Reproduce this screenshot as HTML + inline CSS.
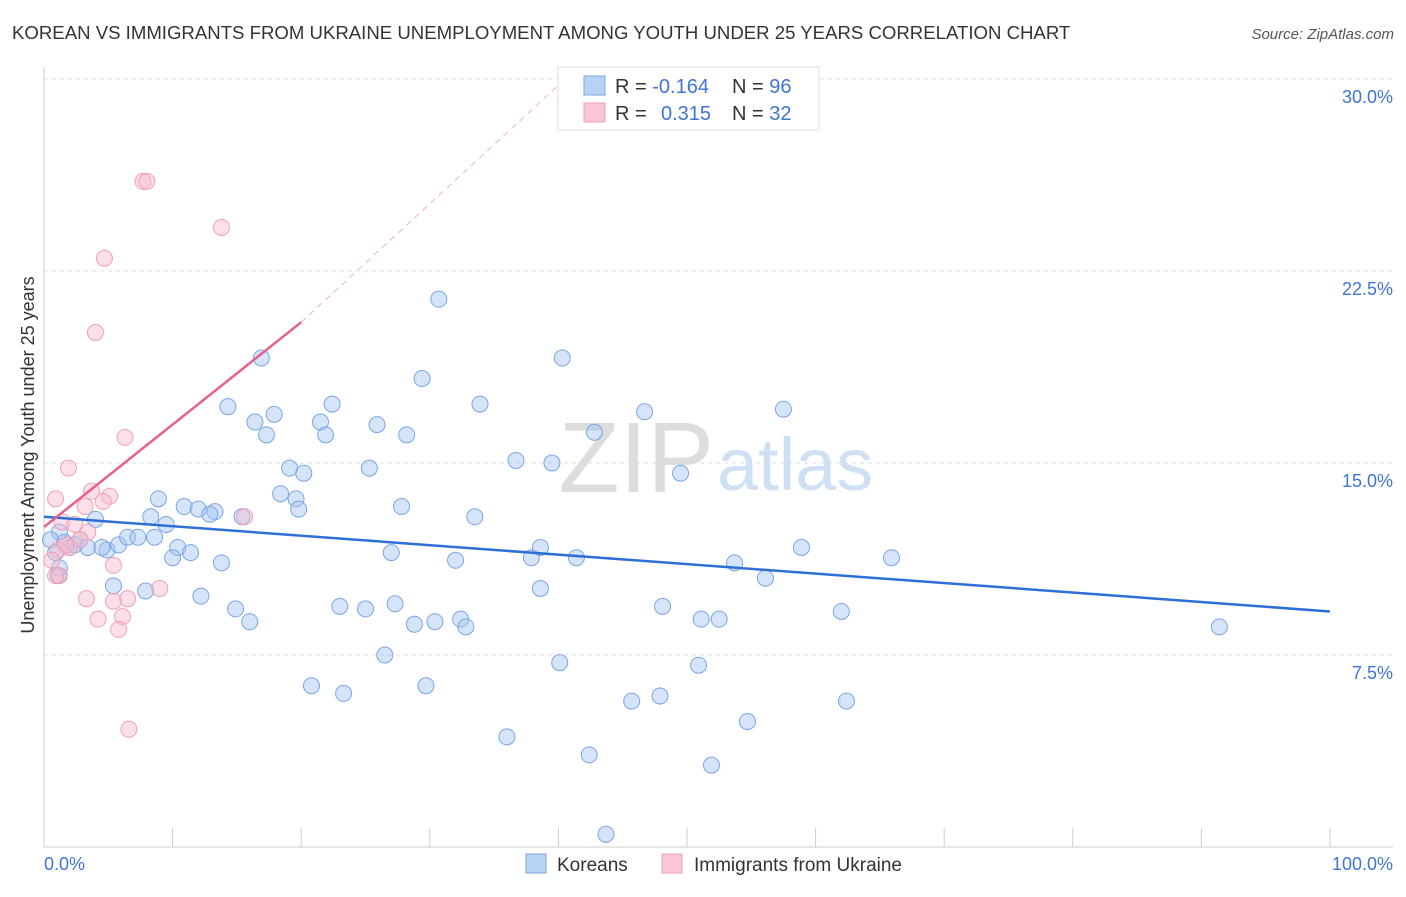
<!DOCTYPE html>
<html><head><meta charset="utf-8"><style>
body{margin:0;background:#fff;font-family:"Liberation Sans",sans-serif;}
svg text{font-family:"Liberation Sans",sans-serif;}
</style></head><body>
<svg id="chart" width="1406" height="892">
<text x="12" y="39" font-size="18.6" fill="#333">KOREAN VS IMMIGRANTS FROM UKRAINE UNEMPLOYMENT AMONG YOUTH UNDER 25 YEARS CORRELATION CHART</text>
<text x="1394" y="39" font-size="15" fill="#555" font-style="italic" text-anchor="end">Source: ZipAtlas.com</text>
<text x="714" y="492" font-size="100" fill="#ddd" font-family="Liberation Serif" text-anchor="end">ZIP</text>
<text x="717" y="490" font-size="74" fill="#cfe0f5">atlas</text>
<text transform="translate(34,455) rotate(-90)" font-size="18" fill="#333" text-anchor="middle">Unemployment Among Youth under 25 years</text>
<g id="grid"></g><g id="marks"></g>
<g>
<rect x="558" y="67" width="261" height="63" fill="#fff" stroke="#ddd"/>
<rect x="584" y="76" width="21" height="19" fill="#b8d2f5" stroke="#7aa7e0"/>
<rect x="584" y="103" width="21" height="19" fill="#f9c6d6" stroke="#f0a0b8"/>
<text x="615" y="93" font-size="20" fill="#333">R = <tspan fill="#3f76d4">-0.164</tspan></text>
<text x="732" y="93" font-size="20" fill="#333">N = <tspan fill="#3f76d4">96</tspan></text>
<text x="615" y="120" font-size="20" fill="#333">R = <tspan fill="#3f76d4" x="661">0.315</tspan></text>
<text x="732" y="120" font-size="20" fill="#333">N = <tspan fill="#3f76d4">32</tspan></text>
</g>
<g>
<rect x="526" y="854" width="20" height="19" fill="#b8d2f5" stroke="#7aa7e0"/>
<text x="557" y="871" font-size="19" fill="#333">Koreans</text>
<rect x="662" y="854" width="20" height="19" fill="#f9c6d6" stroke="#f0a0b8"/>
<text x="694" y="871" font-size="19" fill="#333">Immigrants from Ukraine</text>
</g>
<text x="44" y="870" font-size="18" fill="#3f76d4">0.0%</text>
<text x="1393" y="870" font-size="18" fill="#3f76d4" text-anchor="end">100.0%</text>
</svg>
<script>
const yTicks=[7.5,15,22.5,30];
const yTickLabels=["7.5%","15.0%","22.5%","30.0%"];
const xTickVals=[0,10,20,30,40,50,60,70,80,90,100];
const koreanX=[58.4,30.7,40.3,16.9,29.4,33.9,14.3,22.4,46.7,57.5,16.4,17.9,21.5,25.9,28.2,17.3,21.9,42.8,36.7,39.5,25.3,19.1,20.2,49.5,18.4,19.6,19.8,27.8,8.9,10.9,12.0,13.3,12.9,15.4,8.3,9.5,33.5,4.0,1.2,2.8,4.9,5.8,6.5,7.3,8.6,10.4,11.4,10.0,13.8,27.0,32.0,37.9,38.6,41.4,53.7,58.9,65.9,56.1,38.6,5.4,7.9,12.2,14.9,16.0,23.0,25.0,27.3,28.8,30.4,32.4,32.8,48.1,51.1,52.5,62.0,91.4,26.5,40.1,50.9,20.8,23.3,29.7,45.7,47.9,62.4,54.7,36.0,42.4,51.9,43.7,0.5,0.9,1.2,2.0,2.4,3.4,4.5,1.6,1.1];
const koreanY=[28.8,21.4,19.1,19.1,18.3,17.3,17.2,17.3,17.0,17.1,16.6,16.9,16.6,16.5,16.1,16.1,16.1,16.2,15.1,15.0,14.8,14.8,14.6,14.6,13.8,13.6,13.2,13.3,13.6,13.3,13.2,13.1,13.0,12.9,12.9,12.6,12.9,12.8,12.3,12.0,11.6,11.8,12.1,12.1,12.1,11.7,11.5,11.3,11.1,11.5,11.2,11.3,11.7,11.3,11.1,11.7,11.3,10.5,10.1,10.2,10.0,9.8,9.3,8.8,9.4,9.3,9.5,8.7,8.8,8.9,8.6,9.4,8.9,8.9,9.2,8.6,7.5,7.2,7.1,6.3,6.0,6.3,5.7,5.9,5.7,4.9,4.3,3.6,3.2,0.5,12.0,11.5,10.9,11.7,11.8,11.7,11.7,11.9,10.6];
const ukraineX=[7.7,8.0,13.8,4.7,4.0,6.3,1.9,0.9,3.7,5.1,3.2,4.6,1.4,2.4,3.4,2.8,2.0,1.1,0.6,1.2,0.9,5.4,3.3,6.5,5.4,4.2,6.1,5.8,6.6,9.0,15.6,1.7];
const ukraineY=[26.0,26.0,24.2,23.0,20.1,16.0,14.8,13.6,13.9,13.7,13.3,13.5,12.7,12.6,12.3,12.0,11.7,11.6,11.2,10.6,10.6,11.0,9.7,9.7,9.6,8.9,9.0,8.5,4.6,10.1,12.9,11.8];
const koreanTrend=[12.9,9.2];
const ukraineTrend=[12.5,20.5,29.8];
const ukraineTrendX=[0,20,40.1];
const X=v=>44+v*12.86, Y=v=>847-v*25.6;
const NS="http://www.w3.org/2000/svg";
const grid=document.getElementById('grid'), marks=document.getElementById('marks');
function mk(tag,attrs,parent){const e=document.createElementNS(NS,tag);for(const k in attrs)e.setAttribute(k,attrs[k]);parent.appendChild(e);return e;}
yTicks.forEach((t,i)=>{
 const l=mk('line',{x1:44,x2:1393,y1:Y(t),y2:Y(t),stroke:'#ddd','stroke-dasharray':'4,4'},grid);
 
 
 const tx=mk('text',{x:1393,y:Y(t)+24,'font-size':18,fill:'#3f76d4','text-anchor':'end'},grid);
 tx.textContent=yTickLabels[i];
 
 
});
const ax=mk('line',{x1:44,x2:44,y1:67,y2:847,stroke:'#ccc'},grid);


const bx=mk('line',{x1:44,x2:1393,y1:847,y2:847,stroke:'#ccc'},grid);


xTickVals.forEach(v=>{
 const t=mk('line',{x1:X(v),x2:X(v),y1:828,y2:847,stroke:'#ccc'},grid);
 
 
});
koreanX.forEach((v,i)=>{
 const c=mk('circle',{cx:X(v),cy:Y(koreanY[i]),r:8,fill:'rgba(164,196,244,0.45)',stroke:'#79a6e3','stroke-width':1},marks);
 
 
});
ukraineX.forEach((v,i)=>{
 const c=mk('circle',{cx:X(v),cy:Y(ukraineY[i]),r:8,fill:'rgba(249,186,206,0.45)',stroke:'#f0a0b8','stroke-width':1},marks);
 
 
});
const kt=mk('line',{x1:X(0),y1:Y(koreanTrend[0]),x2:X(100),y2:Y(koreanTrend[1]),stroke:'#2e6fd6','stroke-width':2.5},marks);


const ut=mk('line',{x1:X(ukraineTrendX[0]),y1:Y(ukraineTrend[0]),x2:X(ukraineTrendX[1]),y2:Y(ukraineTrend[1]),stroke:'#e8608c','stroke-width':2.5},marks);


const ud=mk('line',{x1:X(ukraineTrendX[1]),y1:Y(ukraineTrend[1]),x2:X(ukraineTrendX[2]),y2:Y(ukraineTrend[2]),stroke:'#f0b0c4','stroke-width':1,'stroke-dasharray':'6,5'},marks);


</script>
</body></html>
